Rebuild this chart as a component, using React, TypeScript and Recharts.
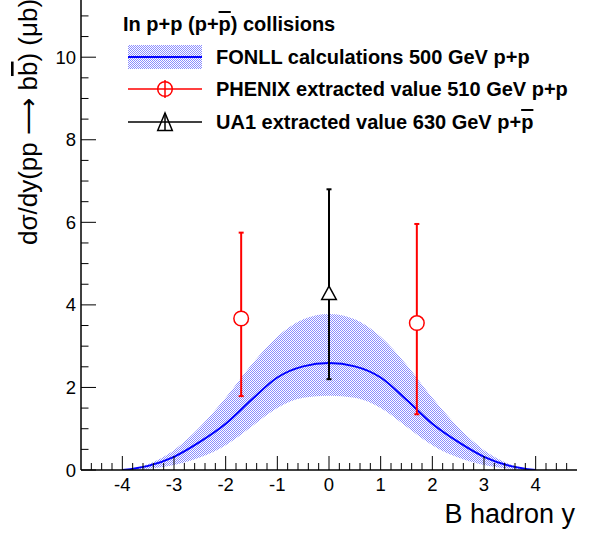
import React from "react";
import { ComposedChart, Area, Line, Scatter, ErrorBar, XAxis, YAxis } from "recharts";

const FONT = "'Liberation Sans', Arial, Helvetica, sans-serif";

// FONLL band
const rapidity = [-4, -3.5, -3, -2.5, -2, -1.5, -1, -0.5, 0, 0.5, 1, 1.5, 2, 2.5, 3, 3.5, 4];
const fonllCentral = [0, 0.1, 0.32, 0.68, 1.12, 1.7, 2.24, 2.51, 2.59, 2.51, 2.24, 1.7, 1.12, 0.68, 0.32, 0.1, 0];
const fonllUpper = [0, 0.14, 0.48, 1.04, 1.75, 2.55, 3.23, 3.65, 3.78, 3.65, 3.23, 2.55, 1.75, 1.04, 0.48, 0.14, 0];
const fonllLower = [0, 0.03, 0.12, 0.3, 0.6, 1.05, 1.5, 1.75, 1.8, 1.75, 1.5, 1.05, 0.6, 0.3, 0.12, 0.03, 0];

// extracted values: [down, up] errors
const phenixY = [-1.7, 1.7];
const phenixVal = [3.67, 3.56];
const phenixErr = [[1.88, 2.08], [2.21, 2.4]];
const ua1Y = [0];
const ua1Val = [4.29];
const ua1Err = [[2.09, 2.51]];

const xMajor = [-4, -3, -2, -1, 0, 1, 2, 3, 4];
const yMajor = [0, 2, 4, 6, 8, 10];

const xTicks = Array.from({ length: 47 }, (_, i) => Math.round((-4.6 + 0.2 * i) * 10) / 10);
const yTicks = Array.from({ length: 24 }, (_, i) => i * 0.5);

const bandData = rapidity.map((x, i) => ({ x, mid: fonllCentral[i], band: [fonllLower[i], fonllUpper[i]] }));
const phenixData = phenixY.map((x, i) => ({ x, y: phenixVal[i], err: phenixErr[i] }));
const ua1Data = ua1Y.map((x, i) => ({ x, y: ua1Val[i], err: ua1Err[i] }));

const XTick = (props: any) => {
  const { x, y, payload } = props;
  const v = payload.value;
  const major = xMajor.includes(v);
  return (
    <g>
      <line x1={x} x2={x} y1={y} y2={y - (major ? 14 : 7)} stroke="#000" strokeWidth={1} />
      {major && (
        <text x={x} y={y + 21} textAnchor="middle" fontSize={18.5} fontFamily={FONT} fill="#000">
          {v}
        </text>
      )}
    </g>
  );
};

const YTick = (props: any) => {
  const { x, y, payload } = props;
  const v = payload.value;
  const major = yMajor.includes(v);
  return (
    <g>
      <line x1={x} x2={x + (major ? 15 : 7.5)} y1={y} y2={y} stroke="#000" strokeWidth={1} />
      {major && (
        <text x={x - 5} y={y + 6.5} textAnchor="end" fontSize={18.5} fontFamily={FONT} fill="#000">
          {v}
        </text>
      )}
    </g>
  );
};

const OpenCircle = (props: any) => (
  <circle cx={props.cx} cy={props.cy} r={7.3} fill="#fff" stroke="#ff0000" strokeWidth={1.5} />
);

const OpenTriangle = (props: any) => {
  const { cx, cy } = props;
  return (
    <polygon
      points={`${cx},${cy - 6.8} ${cx - 7.3},${cy + 6.6} ${cx + 7.3},${cy + 6.6}`}
      fill="#fff"
      stroke="#000"
      strokeWidth={1.5}
    />
  );
};

const DotPattern = ({ id }: { id: string }) => (
  <pattern id={id} width={2} height={2} patternUnits="userSpaceOnUse">
    <rect x={0} y={0} width={1} height={1} fill="#8a8cff" />
    <rect x={1} y={1} width={1} height={1} fill="#8a8cff" />
  </pattern>
);

export default function App() {
  return (
    <div
      style={{
        position: "absolute",
        left: 0,
        top: 0,
        width: 601,
        height: 537,
        overflow: "hidden",
        background: "#fff",
        fontFamily: FONT,
      }}
    >
      <div style={{ position: "absolute", left: 0, top: -20 }}>
        <ComposedChart width={601} height={557} margin={{ top: 0, right: 24, bottom: 37, left: 21 }}>
          <defs>
            <DotPattern id="fonllDots" />
          </defs>
          <XAxis
            type="number"
            dataKey="x"
            domain={[-4.8, 4.8]}
            allowDataOverflow
            ticks={xTicks}
            interval={0}
            tickSize={0}
            tickMargin={0}
            tickLine={false}
            tick={<XTick />}
            axisLine={{ stroke: "#000", strokeWidth: 1.5 }}
            height={30}
          />
          <YAxis
            yAxisId="l"
            type="number"
            domain={[0, 11.87]}
            allowDataOverflow
            ticks={yTicks}
            interval={0}
            tickSize={0}
            tickMargin={0}
            tickLine={false}
            tick={<YTick />}
            axisLine={{ stroke: "#000", strokeWidth: 1.5 }}
            width={60}
          />
          <YAxis
            yAxisId="r"
            orientation="right"
            type="number"
            domain={[0, 11.87]}
            tick={false}
            tickLine={false}
            axisLine={{ stroke: "#333", strokeWidth: 1 }}
            width={0}
          />
          <Area
            yAxisId="l"
            data={bandData}
            dataKey="band"
            type="monotone"
            fill="url(#fonllDots)"
            fillOpacity={1}
            stroke="none"
            isAnimationActive={false}
          />
          <Line
            yAxisId="l"
            data={bandData}
            dataKey="mid"
            type="monotone"
            stroke="#0000ff"
            strokeWidth={2}
            dot={false}
            isAnimationActive={false}
          />
          <Scatter yAxisId="l" data={phenixData} dataKey="y" shape={<OpenCircle />} isAnimationActive={false}>
            <ErrorBar dataKey="err" direction="y" width={2.5} stroke="#ff0000" strokeWidth={2} />
          </Scatter>
          <Scatter yAxisId="l" data={ua1Data} dataKey="y" shape={<OpenTriangle />} isAnimationActive={false}>
            <ErrorBar dataKey="err" direction="y" width={2.5} stroke="#000" strokeWidth={2} />
          </Scatter>
        </ComposedChart>
      </div>

      <svg width={601} height={537} style={{ position: "absolute", left: 0, top: 0, pointerEvents: "none" }}>
        <defs>
          <DotPattern id="legendDots" />
        </defs>
        <text x={575} y={523} textAnchor="end" fontSize={27} fontFamily={FONT} fill="#000">
          B hadron y
        </text>
        <text transform="rotate(-90)" x={-245} y={37} textAnchor="start" fontSize={26} fontFamily={FONT} fill="#000">
          dσ/dy(pp <tspan fontFamily="'DejaVu Sans', sans-serif">⟶</tspan> b
          <tspan style={{ textDecoration: "overline" }}>b</tspan>) (μb)
        </text>

        <g fontFamily={FONT} fontWeight="bold" fontSize={20} fill="#000">
          <text x={123} y={31}>
            In p+p (p+<tspan style={{ textDecoration: "overline" }}>p</tspan>) collisions
          </text>
          <text x={216} y={64}>FONLL calculations 500 GeV p+p</text>
          <text x={216} y={96}>PHENIX extracted value 510 GeV p+p</text>
          <text x={216} y={129}>
            UA1 extracted value 630 GeV p+<tspan style={{ textDecoration: "overline" }}>p</tspan>
          </text>
        </g>

        <rect x={128} y={45} width={74} height={24} fill="url(#legendDots)" />
        <line x1={128} x2={202} y1={57} y2={57} stroke="#0000ff" strokeWidth={2} />

        <line x1={128} x2={202} y1={89} y2={89} stroke="#ff0000" strokeWidth={1.5} />
        <circle cx={165} cy={89} r={7.3} fill="none" stroke="#ff0000" strokeWidth={1.5} />
        <line x1={165} x2={165} y1={80} y2={98} stroke="#ff0000" strokeWidth={1.5} />

        <line x1={128} x2={202} y1={122} y2={122} stroke="#000" strokeWidth={1.5} />
        <polygon points="165,113 157.7,130.5 172.3,130.5" fill="none" stroke="#000" strokeWidth={1.5} />
        <line x1={165} x2={165} y1={113} y2={131} stroke="#000" strokeWidth={1.5} />
      </svg>
    </div>
  );
}
